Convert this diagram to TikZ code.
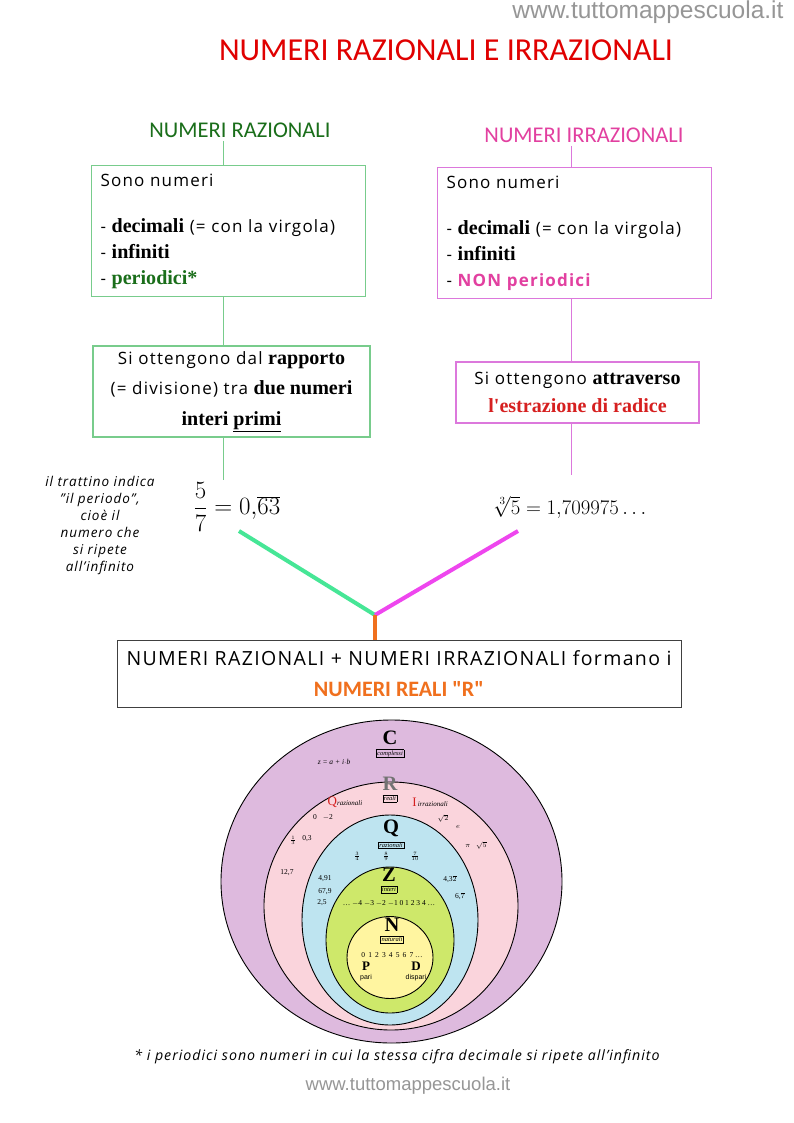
\documentclass[tikz,border=0pt]{standalone}
\usepackage[no-math]{fontspec}
\setmainfont{Open Sans}[LetterSpace=7]
\newfontfamily\titlefont{Carlito}
\newfontfamily\boldserif{Liberation Serif}[Scale=1.18]
\newfontfamily\setfont{Liberation Serif}
\newfontfamily\webfont{Liberation Sans}
\usepackage{tikz}
\usetikzlibrary{
    positioning,
    shapes.geometric
}

\definecolor{ratgreen}{RGB}{26,110,26}
\definecolor{ratline}{RGB}{120,204,140}
\definecolor{irrpink}{RGB}{226,64,160}
\definecolor{irrline}{RGB}{220,120,220}
\definecolor{titlered}{RGB}{224,0,0}
\definecolor{rootred}{RGB}{214,32,32}
\definecolor{mintline}{RGB}{70,230,150}
\definecolor{magline}{RGB}{238,70,238}
\definecolor{realorange}{RGB}{240,112,30}
\definecolor{webgray}{RGB}{150,150,150}
\definecolor{cfill}{RGB}{222,186,222}
\definecolor{rfill}{RGB}{250,212,220}
\definecolor{qfill}{RGB}{190,228,240}
\definecolor{zfill}{RGB}{206,232,106}
\definecolor{nfill}{RGB}{255,245,160}

\setlength{\fboxsep}{0.8pt}
\setlength{\fboxrule}{0.5pt}

\newcommand{\bw}[1]{{\boldserif\bfseries #1}}
\newcommand{\setlabel}[2]{#1\\[3.5pt]\fbox{\mdseries\itshape\fontsize{6.5}{6.5}\selectfont #2}}

\begin{document}
\begin{tikzpicture}[
    x=1pt, y=-1pt,
    heading/.style={
        font=\titlefont\fontsize{22.5}{22.5}\selectfont
    },
    listbox/.style={
        rectangle,
        draw,
        line width=1.1pt,
        anchor=north west,
        align=left,
        inner xsep=9pt,
        font=\fontsize{17}{26}\selectfont
    },
    waybox/.style={
        rectangle,
        draw,
        line width=1.1pt,
        align=center,
        font=\fontsize{17}{30.5}\selectfont
    },
    link/.style={
        line width=0.9pt
    },
    branch/.style={
        line width=4pt
    },
    setring/.style={
        draw=black,
        line width=0.9pt
    },
    setname/.style={
        anchor=north,
        align=center,
        inner sep=0pt,
        font=\setfont\bfseries\fontsize{20.5}{2}\selectfont
    },
    smallword/.style={
        inner sep=0.6pt,
        font=\setfont\itshape\fontsize{7}{7}\selectfont
    },
    setnum/.style={
        font=\setfont\fontsize{7.5}{7.5}\selectfont,
        inner sep=0pt
    }
]

\fill[white] (0,0) rectangle (794,1123);
\useasboundingbox (0,0) rectangle (794,1123);

% ============================================================
% HEADER
% ============================================================

\node[anchor=east, text=webgray,
      font=\webfont\fontsize{24.5}{24.5}\selectfont] (webtop) at (787,12)
{www.tuttomappescuola.it};

\node[text=titlered,
      font=\titlefont\fontsize{32}{32}\selectfont] (title) at (446,50)
{NUMERI RAZIONALI E IRRAZIONALI};

% ============================================================
% RATIONAL BRANCH
% ============================================================

\node[heading, text=ratgreen] (rathead) at (240,130)
{NUMERI RAZIONALI};

\node[listbox, draw=ratline, text width=256pt,
      minimum height=131pt] (ratprops) at (91,165)
{
Sono numeri\\[20pt]
- \bw{decimali} (= con la virgola)\\
- \bw{infiniti}\\
- \bw{\textcolor{ratgreen}{periodici*}}
};

\node[waybox, draw=ratline, minimum width=277pt,
      minimum height=91pt] (ratway) at (231.5,391.5)
{
Si ottengono dal \bw{rapporto}\\
(= divisione) tra \bw{due numeri}\\
\bw{interi \underline{primi}}
};

\node[font=\fontsize{24}{24}\selectfont] (ratexample) at (237,507)
{$\displaystyle \frac{5}{7} = 0{,}\overline{63}$};

\node[align=center,
      font=\itshape\fontsize{13.5}{17}\selectfont] (ratnote) at (100,525)
{
il trattino indica\\
"il periodo",\\
cioè il\\
numero che\\
si ripete\\
all'infinito
};

% ============================================================
% IRRATIONAL BRANCH
% ============================================================

\node[heading, text=irrpink] (irrhead) at (584,135)
{NUMERI IRRAZIONALI};

\node[listbox, draw=irrline, text width=256pt,
      minimum height=131pt] (irrprops) at (437,167)
{
Sono numeri\\[20pt]
- \bw{decimali} (= con la virgola)\\
- \bw{infiniti}\\
- {\bfseries\textcolor{irrpink}{NON periodici}}
};

\node[waybox, draw=irrline, minimum width=243pt,
      minimum height=61pt,
      font=\fontsize{17}{28}\selectfont] (irrway) at (577.5,392.5)
{
Si ottengono \bw{attraverso}\\
\bw{\textcolor{rootred}{l'estrazione di radice}}
};

\node[font=\fontsize{21.5}{21.5}\selectfont] (irrexample) at (570,507)
{$\sqrt[3]{5} = 1{,}709975\ldots$};

% ============================================================
% REAL NUMBERS
% ============================================================

\coordinate (meet) at (375,615);
\coordinate (ratend) at (239,531);
\coordinate (irrend) at (518,531);

\node[rectangle, draw=black!75, line width=1pt,
      minimum width=564pt, minimum height=67pt, align=center,
      font=\fontsize{19.5}{31}\selectfont] (reals) at (399,673.5)
{
NUMERI RAZIONALI + NUMERI IRRAZIONALI formano i\\
{\titlefont\bfseries\fontsize{22}{22}\selectfont\textcolor{realorange}{NUMERI REALI "R"}}
};

% ============================================================
% CONNECTIONS
% ============================================================

\draw[link, draw=ratline] (rathead.south -| 223,0) -- (ratprops.north -| 223,0);
\draw[link, draw=ratline] (ratprops.south -| 223,0) -- (ratway.north -| 223,0);
\draw[link, draw=ratline] (ratway.south -| 223,0) -- (223,480);

\draw[link, draw=irrline] (irrhead.south -| 571,0) -- (irrprops.north -| 571,0);
\draw[link, draw=irrline] (irrprops.south -| 571,0) -- (irrway.north -| 571,0);
\draw[link, draw=irrline] (irrway.south -| 571,0) -- (571,475);

\draw[branch, draw=mintline] (ratend) -- (meet);
\draw[branch, draw=magline] (irrend) -- (meet);
\draw[branch, draw=realorange] (meet) -- (reals.north -| meet);

% ============================================================
% NUMBER SETS
% ============================================================

\filldraw[setring, fill=cfill] (391.5,881.5) ellipse [x radius=170.5, y radius=161.5];
\filldraw[setring, fill=rfill] (391,906) ellipse [x radius=127, y radius=124];
\filldraw[setring, fill=qfill] (390,920) ellipse [x radius=88, y radius=105];
\filldraw[setring, fill=zfill] (390,940) ellipse [x radius=64, y radius=73];
\filldraw[setring, fill=nfill] (390,957.5) ellipse [x radius=43, y radius=41];

% complessi
\node[setname] (cset) at (390,731) {\setlabel{C}{complessi}};
\node[setnum, font=\setfont\itshape\fontsize{7.5}{7.5}\selectfont] (cform) at (334,762)
{z = a + i$\cdot$b};

% reali
\node[setname] (rset) at (390,777) {\setlabel{\textcolor{black!55}{R}}{reali}};
\node[smallword] (qword) at (345,802)
{\textcolor{rootred}{\upshape\fontsize{13}{13}\selectfont Q}razionali};
\node[smallword] (iword) at (430,802)
{\textcolor{rootred}{\upshape\fontsize{13}{13}\selectfont I}\,irrazionali};
\node[setnum] (rnum1) at (323,817) {0 \; $-$2};
\node[setnum] (rnum2) at (293,840) {$\frac{1}{3}$};
\node[setnum] (rnum3) at (307,839) {0,3};
\node[setnum] (rnum4) at (287,873) {12,7};
\node[setnum] (rnum5) at (443,818) {$\sqrt{2}$};
\node[setnum] (rnum6) at (458,827) {$e$};
\node[setnum] (rnum7) at (476,845) {$\pi$ \; $\sqrt{5}$};

% razionali
\node[setname] (qset) at (391,820) {\setlabel{Q}{razionali}};
\node[setnum] (qnum1) at (357,856) {$\frac{3}{4}$};
\node[setnum] (qnum2) at (386,856) {$\frac{8}{9}$};
\node[setnum] (qnum3) at (415,856) {$\frac{7}{10}$};
\node[setnum] (qnum4) at (325,879) {4,91};
\node[setnum] (qnum5) at (325,892) {67,9};
\node[setnum] (qnum6) at (322,903) {2,5};
\node[setnum] (qnum7) at (450,879) {4,3$\overline{2}$};
\node[setnum] (qnum8) at (460,896) {6,$\overline{7}$};

% interi
\node[setname] (zset) at (389,868) {\setlabel{Z}{interi}};
\node[setnum] (znum) at (389,903) {\dots\ $-$4 $-$3 $-$2 $-$1 0 1 2 3 4 \dots};

% naturali
\node[setname] (nset) at (392,918) {\setlabel{N}{naturali}};
\node[setnum] (nnum) at (392,955) {0\, 1\, 2\, 3\, 4\, 5\, 6\, 7 \dots};
\node[setname, font=\setfont\bfseries\fontsize{13}{9}\selectfont] (pset) at (366,962)
{P\\{\mdseries\webfont\fontsize{7}{7}\selectfont pari}};
\node[setname, font=\setfont\bfseries\fontsize{13}{9}\selectfont] (dset) at (416,962)
{D\\{\mdseries\webfont\fontsize{7}{7}\selectfont dispari}};

% ============================================================
% FOOTER
% ============================================================

\node[font=\itshape\fontsize{14.2}{14.2}\selectfont] (footnote) at (397,1057)
{* i periodici sono numeri in cui la stessa cifra decimale si ripete all'infinito};

\node[text=webgray,
      font=\webfont\fontsize{18.5}{18.5}\selectfont] (webbottom) at (408,1086)
{www.tuttomappescuola.it};

\end{tikzpicture}
\end{document}
